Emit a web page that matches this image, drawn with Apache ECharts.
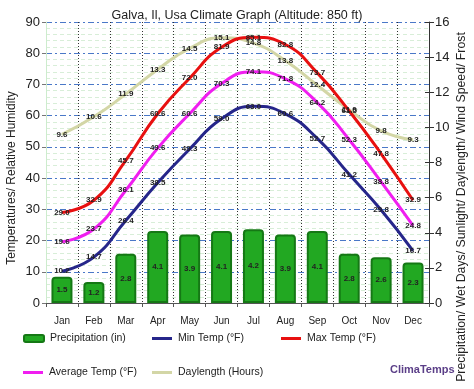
<!DOCTYPE html>
<html><head><meta charset="utf-8">
<script src="https://cdn.jsdelivr.net/npm/echarts@6/dist/echarts.min.js"></script>
<style>html,body{margin:0;padding:0;background:#fff}#c{width:474px;height:389px}</style>
</head><body><div id="c"></div>
<script>
var months = ['Jan','Feb','Mar','Apr','May','Jun','Jul','Aug','Sep','Oct','Nov','Dec'];
var precipitation = [1.5,1.2,2.8,4.1,3.9,4.1,4.2,3.9,4.1,2.8,2.6,2.3];
var minTemp = [10.2,14.7,26.4,38.5,49.3,59.0,63.0,60.6,52.7,41.2,29.8,16.7];
var maxTemp = [29.0,32.9,45.7,60.6,72.0,81.9,85.1,82.8,73.7,61.5,47.8,32.9];
var avgTemp = [19.6,23.7,36.1,49.6,60.6,70.3,74.1,71.8,64.2,52.3,38.8,24.8];
var daylength = [9.6,10.6,11.9,13.3,14.5,15.1,14.8,13.8,12.4,11.0,9.8,9.3];

var FONT = 'Liberation Sans, Arial, sans-serif';
var chart = echarts.init(document.getElementById('c'), null, {renderer:'canvas'});
function lbl(){return {show:true,position:'inside',fontSize:8,fontFamily:FONT,color:'#222',fontWeight:'bold',formatter:function(p){return p.value.toFixed(1);}};}
function lineSeries(name,data,color,yIdx){
  return {name:name,type:'line',data:data,yAxisIndex:yIdx,smooth:true,symbol:'circle',symbolSize:0.1,showSymbol:true,
    lineStyle:{color:color,width:3},itemStyle:{color:color},label:lbl(),z:3};
}
function leg(name,left,top,icon,h){
  return {data:[{name:name,icon:icon}],left:left,top:top,itemWidth:20,itemHeight:h,itemGap:0,padding:0,
    textStyle:{fontSize:10.5,fontFamily:FONT,color:'#222',padding:[0,0,0,1]},selectedMode:false};
}
chart.setOption({
  animation:false,
  title:{text:'Galva, Il, Usa Climate Graph (Altitude: 850 ft)',left:'center',top:4,
    textStyle:{fontSize:12.5,fontWeight:'normal',fontFamily:FONT,color:'#222'}},
  grid:{left:46,right:45,top:22,bottom:86},
  legend:[
    leg('Precipitation (in)',23,333,'roundRect',7),
    leg('Min Temp (°F)',152,333,'rect',3),
    leg('Max Temp (°F)',281,333,'rect',3),
    leg('Average Temp (°F)',23,367,'rect',3),
    leg('Daylength (Hours)',152,367,'rect',3)
  ],
  xAxis:{type:'category',data:months,boundaryGap:true,
    axisLine:{lineStyle:{color:'#555'}},
    axisTick:{show:true,length:4,lineStyle:{color:'#555'}},
    axisLabel:{fontSize:10,fontFamily:FONT,color:'#222',margin:13},
    splitLine:{show:true,lineStyle:{color:'#333',type:[1,2],width:1}}},
  yAxis:[
    {type:'value',min:0,max:90,interval:10,
     axisLine:{show:true,lineStyle:{color:'#cdeccd'}},
     axisTick:{show:true,length:4,lineStyle:{color:'#777'}},
     axisLabel:{fontSize:13,fontFamily:FONT,color:'#222',margin:6},
     splitLine:{show:true,lineStyle:{color:'#4a78c8',type:[6,3,2,3],width:1}},
     minorTick:{show:false,splitNumber:5},
     minorSplitLine:{show:true,lineStyle:{color:'#d8eed8',type:[4,3],width:1}}},
    {type:'value',min:0,max:16,interval:2,
     axisLine:{show:true,lineStyle:{color:'#333'}},
     axisTick:{show:true,length:5,lineStyle:{color:'#333'}},
     axisLabel:{fontSize:13,fontFamily:FONT,color:'#222',margin:6},
     splitLine:{show:false}},
    {type:'value',min:0,max:16,interval:2,position:'right',
     axisLine:{show:false},
     axisTick:{show:true,inside:true,length:4,lineStyle:{color:'#333'}},
     axisLabel:{show:false},
     splitLine:{show:false}}
  ],
  graphic:[
    {type:'text',x:12,y:178,rotation:Math.PI/2,style:{text:'Temperatures/ Relative Humidity',font:'12px '+FONT,fill:'#222',align:'center',verticalAlign:'middle'}},
    {type:'text',x:462,y:207,rotation:Math.PI/2,style:{text:'Precipitation/ Wet Days/ Sunlight/ Daylength/ Wind Speed/ Frost',font:'12.3px '+FONT,fill:'#222',align:'center',verticalAlign:'middle'}},
    {type:'text',x:390,y:370,style:{text:'ClimaTemps',font:'bold 11px '+FONT,fill:'#5b3f88',align:'left',verticalAlign:'middle'}}
  ],
  series:[
    {name:'Precipitation (in)',type:'bar',data:precipitation,yAxisIndex:1,barWidth:21,
     itemStyle:{color:'#22a822',borderColor:'#157815',borderWidth:2,borderRadius:[3,3,0,0]},
     label:{show:true,position:'inside',fontSize:8,fontFamily:FONT,color:'#222',fontWeight:'bold',formatter:function(p){return p.value.toFixed(1);}},z:2},
    lineSeries('Daylength (Hours)',daylength,'#d3d6a6',1),
    lineSeries('Min Temp (°F)',minTemp,'#26268a',0),
    lineSeries('Average Temp (°F)',avgTemp,'#f01ef0',0),
    lineSeries('Max Temp (°F)',maxTemp,'#e81010',0)
  ]
});
</script></body></html>
